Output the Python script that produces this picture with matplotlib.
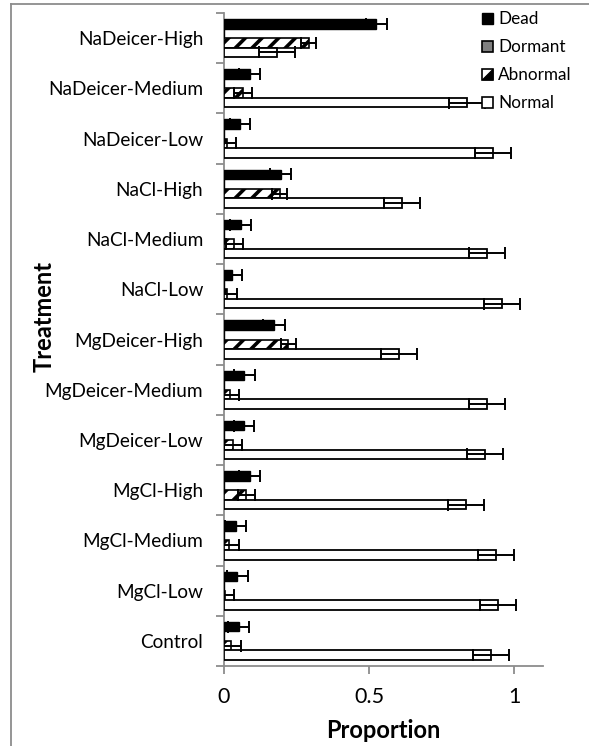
import matplotlib
matplotlib.use("Agg")
import matplotlib.pyplot as plt
import numpy as np
from matplotlib.patches import Rectangle, Polygon
from matplotlib.legend_handler import HandlerBase
from matplotlib.lines import Line2D

categories = ["NaDeicer-High", "NaDeicer-Medium", "NaDeicer-Low", "NaCl-High",
              "NaCl-Medium", "NaCl-Low", "MgDeicer-High", "MgDeicer-Medium",
              "MgDeicer-Low", "MgCl-High", "MgCl-Medium", "MgCl-Low", "Control"]

dead = [0.525, 0.088, 0.055, 0.195, 0.057, 0.028, 0.173, 0.070, 0.068, 0.089, 0.040, 0.046, 0.050]
dead_err = [0.036, 0.035, 0.035, 0.035, 0.035, 0.034, 0.037, 0.036, 0.035, 0.036, 0.035, 0.037, 0.037]
dormant = [0, 0, 0, 0, 0, 0, 0, 0, 0, 0, 0, 0, 0]
abnormal = [0.292, 0.065, 0.011, 0.192, 0.036, 0.012, 0.222, 0.021, 0.031, 0.077, 0.018, 0.005, 0.025]
abnormal_err = [0.026, 0.030, 0.030, 0.026, 0.030, 0.033, 0.026, 0.032, 0.030, 0.030, 0.032, 0.030, 0.032]
normal = [0.183, 0.838, 0.928, 0.614, 0.906, 0.957, 0.605, 0.906, 0.900, 0.834, 0.937, 0.946, 0.922]
normal_err = [0.061, 0.062, 0.061, 0.062, 0.062, 0.062, 0.062, 0.062, 0.062, 0.062, 0.062, 0.062, 0.062]

series_names = ["Dead", "Dormant", "Abnormal", "Normal"]
xticks = [0, 0.5, 1]
xtick_labels = ["0", "0.5", "1"]

plt.rcParams['font.family'] = ['Lato', 'DejaVu Sans']
plt.rcParams['hatch.linewidth'] = 2.6

W, H = 589, 746
fig = plt.figure(figsize=(W / 100, H / 100), dpi=100)

# outer frame (left and top edges visible)
fig.add_artist(Line2D([11 / W, 11 / W], [0, 1 - 4 / H], transform=fig.transFigure,
                      color='#8c8c8c', lw=1.3))
fig.add_artist(Line2D([11 / W, 1], [1 - 4 / H, 1 - 4 / H], transform=fig.transFigure,
                      color='#8c8c8c', lw=1.3))

ax = fig.add_axes([224 / W, 1 - 666 / H, (543 - 224) / W, (666 - 13) / H])

n = len(categories)
y = np.arange(n)
h = 0.19
offs = [-1.5 * h, -0.5 * h, 0.5 * h, 1.5 * h]

ekw = dict(fmt='none', ecolor='black', elinewidth=1.4, capsize=4.5, capthick=1.4, zorder=4)

ax.barh(y + offs[0], dead, height=h, color='black', edgecolor='black', lw=1.0, zorder=3)
ax.errorbar(dead, y + offs[0], xerr=dead_err, **ekw)
ax.barh(y + offs[1], dormant, height=h, color='#808080', edgecolor='black', lw=1.0, zorder=3)
ax.barh(y + offs[2], abnormal, height=h, color='white', edgecolor='black', hatch='//',
        lw=1.2, zorder=3)
ax.errorbar(abnormal, y + offs[2], xerr=abnormal_err, **ekw)
ax.barh(y + offs[3], normal, height=h, color='white', edgecolor='black', lw=1.3, zorder=3)
ax.errorbar(normal, y + offs[3], xerr=normal_err, **ekw)

ax.set_xlim(0, 1.1)
ax.set_ylim(n - 0.5, -0.5)

ax.set_yticks(y)
ax.set_yticklabels(categories, fontsize=13.7)
ax.set_yticks(np.arange(n + 1) - 0.5, minor=True)
ax.tick_params(axis='y', which='major', length=0, pad=15)
ax.tick_params(axis='y', which='minor', length=6, width=1.3, color='#8c8c8c', direction='out')

ax.set_xticks(xticks)
ax.set_xticklabels(xtick_labels, fontsize=15.5)
ax.tick_params(axis='x', length=6, width=1.3, color='#8c8c8c', direction='out', pad=9)

for s in ['top', 'right']:
    ax.spines[s].set_visible(False)
for s in ['left', 'bottom']:
    ax.spines[s].set_color('#8c8c8c')
    ax.spines[s].set_linewidth(1.3)

fig.text(383.5 / W, 1 - 731 / H, "Proportion", ha='center', va='center',
         fontsize=17, fontweight='bold')
fig.text(44 / W, 1 - 316 / H, "Treatment", ha='center', va='center', rotation=90,
         fontsize=17, fontweight='bold')


class SquareHandler(HandlerBase):
    def __init__(self, kind):
        super().__init__()
        self.kind = kind

    def create_artists(self, legend, orig_handle, xdescent, ydescent, width, height,
                       fontsize, trans):
        x0, y0 = -xdescent, -ydescent
        s = min(width, height)
        arts = []
        if self.kind == 'dead':
            arts.append(Rectangle((x0, y0), s, s, fc='black', ec='black', lw=1.0, transform=trans))
        elif self.kind == 'dormant':
            arts.append(Rectangle((x0, y0), s, s, fc='#808080', ec='black', lw=1.2, transform=trans))
        elif self.kind == 'abnormal':
            arts.append(Rectangle((x0, y0), s, s, fc='white', ec='black', lw=1.2, transform=trans))
            arts.append(Polygon([[x0 + s, y0], [x0 + s, y0 + s], [x0, y0]], closed=True,
                                fc='black', ec='black', lw=0.8, transform=trans))
        else:
            arts.append(Rectangle((x0, y0), s, s, fc='white', ec='black', lw=1.2, transform=trans))
        return arts


handles = [Rectangle((0, 0), 1, 1) for _ in series_names]
hmap = {handles[0]: SquareHandler('dead'), handles[1]: SquareHandler('dormant'),
        handles[2]: SquareHandler('abnormal'), handles[3]: SquareHandler('normal')}
leg = fig.legend(handles, series_names, handler_map=hmap, loc='upper left',
                 bbox_to_anchor=(479 / W, 1 - 8 / H), frameon=False, fontsize=12.3,
                 handlelength=0.62, handleheight=0.62, handletextpad=0.3,
                 labelspacing=0.70, borderaxespad=0, borderpad=0.2)

fig.savefig("out.png", dpi=100)
